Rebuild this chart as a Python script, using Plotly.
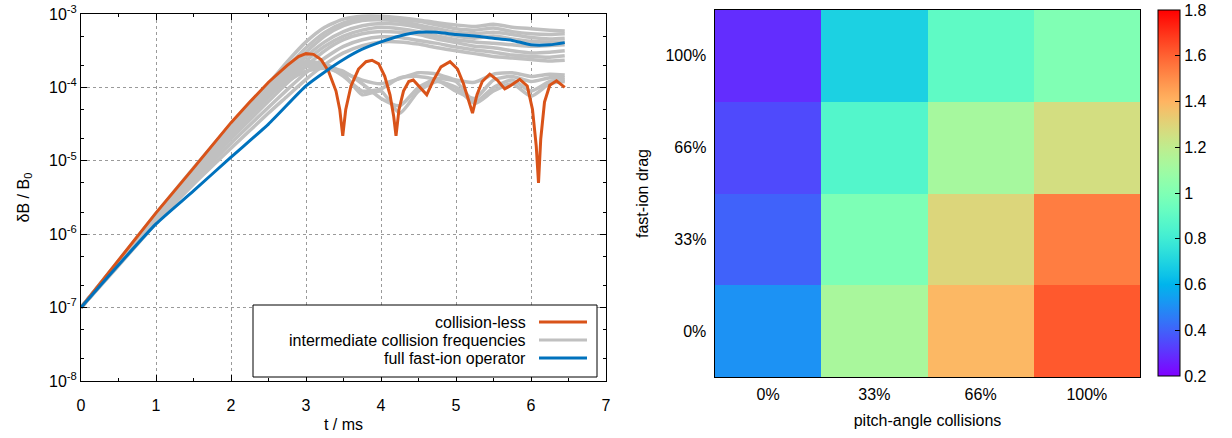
import math
import plotly.graph_objects as go

W, H = 1232, 438

# ---------------- data: left panel (log10 of dB/B0) ----------------
t_red = [0, 0.5, 1.0, 1.5, 2.0, 2.25, 2.5, 2.75, 2.9, 3.0, 3.1, 3.2, 3.3, 3.4, 3.45, 3.49, 3.53,
         3.6, 3.7, 3.8, 3.88, 3.97, 4.05, 4.12, 4.17, 4.2, 4.24, 4.3, 4.37, 4.43, 4.52, 4.61,
         4.7, 4.8, 4.92, 5.02, 5.1, 5.17, 5.22, 5.28, 5.35, 5.45, 5.55, 5.65, 5.72, 5.85,
         5.95, 6.02, 6.07, 6.1, 6.13, 6.18, 6.25, 6.34, 6.45]
log_red = [-7.0, -6.36, -5.71, -5.1, -4.48, -4.2, -3.93, -3.7, -3.58, -3.54, -3.55, -3.62, -3.78,
           -4.05, -4.3, -4.66, -4.3, -3.98, -3.75, -3.65, -3.63, -3.68, -3.85, -4.1, -4.4, -4.66,
           -4.3, -4.05, -3.92, -3.9, -4.0, -4.1, -3.9, -3.72, -3.65, -3.75, -3.95, -4.2, -4.35,
           -4.1, -3.92, -3.82, -3.9, -4.02, -3.98, -3.89, -3.98, -4.3, -4.8, -5.3, -4.7, -4.2,
           -3.97, -3.91, -4.0]

t_blue = [0, 0.5, 1.0, 1.5, 2.0, 2.5, 3.0, 3.25, 3.5, 3.75, 4.0, 4.25, 4.5, 4.75, 5.0, 5.25,
          5.5, 5.75, 6.0, 6.25, 6.45]
log_blue = [-7.0, -6.42, -5.86, -5.41, -4.95, -4.5, -3.98, -3.79, -3.62, -3.48, -3.38, -3.3,
            -3.25, -3.25, -3.28, -3.3, -3.33, -3.36, -3.42, -3.42, -3.39]

t_gray = [0, 0.5, 1.0, 1.5, 2.0, 2.5, 2.75, 3.0, 3.25, 3.5, 3.75, 4.0, 4.25, 4.5, 4.75, 5.0,
          5.25, 5.5, 5.75, 6.0, 6.25, 6.45]
gray_1 = [-7, -6.36, -5.72, -5.1, -4.5, -3.95, -3.65, -3.38, -3.18, -3.07, -3.03, -3.03, -3.05, -3.08, -3.12, -3.15, -3.17, -3.14, -3.18, -3.2, -3.22, -3.23]
gray_2 = [-7, -6.37, -5.74, -5.12, -4.53, -3.98, -3.72, -3.46, -3.25, -3.12, -3.06, -3.05, -3.07, -3.1, -3.15, -3.2, -3.22, -3.19, -3.24, -3.27, -3.28, -3.27]
gray_3 = [-7, -6.38, -5.76, -5.15, -4.57, -4.03, -3.77, -3.52, -3.3, -3.16, -3.09, -3.08, -3.1, -3.15, -3.2, -3.25, -3.27, -3.25, -3.28, -3.32, -3.34, -3.33]
gray_4 = [-7, -6.39, -5.77, -5.17, -4.6, -4.07, -3.82, -3.58, -3.38, -3.24, -3.16, -3.13, -3.14, -3.18, -3.25, -3.3, -3.33, -3.3, -3.34, -3.37, -3.38, -3.38]
gray_5 = [-7, -6.4, -5.79, -5.2, -4.65, -4.13, -3.88, -3.64, -3.44, -3.3, -3.22, -3.18, -3.2, -3.24, -3.3, -3.35, -3.38, -3.4, -3.42, -3.44, -3.43, -3.42]
gray_6 = [-7, -6.41, -5.81, -5.24, -4.7, -4.19, -3.94, -3.71, -3.5, -3.35, -3.27, -3.24, -3.25, -3.28, -3.34, -3.39, -3.44, -3.46, -3.5, -3.53, -3.52, -3.5]
gray_7 = [-7, -6.42, -5.83, -5.28, -4.76, -4.27, -4.03, -3.8, -3.6, -3.44, -3.35, -3.31, -3.32, -3.36, -3.4, -3.45, -3.49, -3.52, -3.56, -3.58, -3.59, -3.57]
gray_8 = [-7, -6.43, -5.85, -5.32, -4.83, -4.35, -4.12, -3.89, -3.69, -3.53, -3.43, -3.38, -3.38, -3.41, -3.46, -3.5, -3.54, -3.58, -3.6, -3.62, -3.64, -3.63]
gray_9 = [-7, -6.37, -5.74, -5.12, -4.52, -3.98, -3.78, -3.65, -3.68, -3.8, -3.9, -3.95, -3.88, -3.8, -3.82, -3.9, -3.93, -3.82, -3.8, -3.85, -3.82, -3.83]
gray_10 = [-7, -6.38, -5.76, -5.15, -4.56, -4.03, -3.82, -3.68, -3.7, -3.85, -4.05, -4.02, -3.87, -3.85, -3.9, -4.05, -4.15, -3.9, -3.85, -3.92, -3.87, -3.87]
gray_11 = [-7, -6.39, -5.78, -5.18, -4.6, -4.08, -3.87, -3.72, -3.72, -3.78, -3.95, -4.15, -4.25, -4.0, -3.88, -3.92, -4.2, -4.0, -3.9, -4.05, -3.92, -3.9]
gray_12 = [-7, -6.4, -5.8, -5.2, -4.63, -4.12, -3.92, -3.78, -3.74, -3.82, -4.1, -4.05, -4.35, -4.05, -3.92, -4.0, -4.22, -4.05, -3.95, -4.12, -3.95, -3.92]
gray_series = [gray_1, gray_2, gray_3, gray_4, gray_5, gray_6, gray_7, gray_8,
               gray_9, gray_10, gray_11, gray_12]

legend_labels = ["collision-less", "intermediate collision frequencies", "full fast-ion operator"]

# ---------------- data: right panel ----------------
pitch_labels = ["0%", "33%", "66%", "100%"]
drag_labels = ["0%", "33%", "66%", "100%"]
# rows: drag 0%, 33%, 66%, 100% ; columns: pitch-angle 0%, 33%, 66%, 100%
ratio_drag0 = [0.51, 1.13, 1.39, 1.62]
ratio_drag33 = [0.40, 0.99, 1.29, 1.54]
ratio_drag66 = [0.35, 0.86, 1.12, 1.26]
ratio_drag100 = [0.29, 0.69, 0.90, 1.00]
cbar_ticks = [0.2001, 0.4, 0.6, 0.8, 1.0, 1.2, 1.4, 1.6, 1.7999]
cbar_text = ["0.2", "0.4", "0.6", "0.8", "1", "1.2", "1.4", "1.6", "1.8"]
ytick_exponents = [-8, -7, -6, -5, -4, -3]

# ---------------- style ----------------
RED = "#D95319"
BLUE = "#0072BD"
GRAY = "#C0C0C0"
FONT = "Liberation Sans, Arial, sans-serif"


def gp_rainbow(n=41):
    scale = []
    for i in range(n):
        x = i / (n - 1)
        r = min(1.0, abs(2 * x - 0.5))
        g = max(0.0, math.sin(math.pi * x))
        b = max(0.0, math.cos(math.pi / 2 * x))
        scale.append([x, f"rgb({round(r*255)},{round(g*255)},{round(b*255)})"])
    return scale


def px_x(p):
    return p / W


def px_y(p):
    return 1 - p / H


fig = go.Figure()

for g in gray_series:
    fig.add_trace(go.Scatter(x=t_gray, y=[10 ** v for v in g], mode="lines",
                             line=dict(color=GRAY, width=3.5, shape="spline", smoothing=0.6),
                             showlegend=False, xaxis="x", yaxis="y", hoverinfo="skip"))
fig.add_trace(go.Scatter(x=t_red, y=[10 ** v for v in log_red], mode="lines",
                         line=dict(color=RED, width=3), showlegend=False,
                         xaxis="x", yaxis="y"))
fig.add_trace(go.Scatter(x=t_blue, y=[10 ** v for v in log_blue], mode="lines",
                         line=dict(color=BLUE, width=3, shape="spline", smoothing=0.6),
                         showlegend=False, xaxis="x", yaxis="y"))

z = [ratio_drag0, ratio_drag33, ratio_drag66, ratio_drag100]
fig.add_trace(go.Heatmap(
    x=pitch_labels, y=drag_labels, z=z, zmin=0.2, zmax=1.8,
    colorscale=gp_rainbow(), xaxis="x2", yaxis="y2",
    colorbar=dict(x=px_x(1158), xanchor="left", y=px_y(10), yanchor="top",
                  len=366 / H, lenmode="fraction", thickness=22, thicknessmode="pixels",
                  outlinecolor="black", outlinewidth=1, ticks="inside", ticklen=5,
                  tickcolor="black", tickvals=cbar_ticks, ticktext=cbar_text,
                  tickprefix="\u00a0\u00a0", ticklabeloverflow="allow",
                  tickfont=dict(size=16, color="black", family=FONT), xpad=0, ypad=0),
))

axis_common = dict(showline=True, linecolor="black", linewidth=1, mirror="allticks",
                   ticks="inside", tickcolor="black", automargin=False,
                   ticklabeloverflow="allow",
                   tickfont=dict(size=16, color="black", family=FONT))

# legend (drawn manually: labels right-aligned, samples on the right)
shapes = [dict(type="rect", xref="paper", yref="paper",
               x0=px_x(253), x1=px_x(597), y0=px_y(377), y1=px_y(305),
               line=dict(color="black", width=1), fillcolor="white", layer="above")]
annotations = []
for i, (lab, col) in enumerate(zip(legend_labels, [RED, GRAY, BLUE])):
    yy = px_y(322 + 18 * i)
    shapes.append(dict(type="line", xref="paper", yref="paper", x0=px_x(539), x1=px_x(587),
                       y0=yy, y1=yy, line=dict(color=col, width=3), layer="above"))
    annotations.append(dict(xref="paper", yref="paper", x=px_x(528), y=yy, text=lab,
                            showarrow=False, xanchor="right", yanchor="middle",
                            font=dict(size=16, color="black", family=FONT)))

fig.update_layout(
    width=W, height=H, margin=dict(l=0, r=0, t=0, b=0, autoexpand=False),
    paper_bgcolor="white", plot_bgcolor="white",
    font=dict(family=FONT, size=16, color="black"),
    xaxis=dict(domain=[px_x(81), px_x(606)], range=[0, 7], dtick=1, tick0=0, ticklen=6,
               showgrid=True, gridcolor="#9a9a9a", griddash="dot", gridwidth=1,
               zeroline=False, ticklabelstandoff=10,
               minor=dict(ticks="inside", ticklen=3, dtick=0.5, tickcolor="black", showgrid=False),
               title=dict(text="t / ms", standoff=5, font=dict(size=16)), anchor="y",
               **axis_common),
    yaxis=dict(domain=[px_y(381), px_y(14)], type="log", range=[-8, -3],
               tickvals=[10.0 ** e for e in ytick_exponents],
               ticktext=[f"10<sup>{e}</sup>" for e in ytick_exponents],
               ticklen=6,
               showgrid=True, gridcolor="#9a9a9a", griddash="dot", gridwidth=1,
               minor=dict(ticks="inside", ticklen=3, tickcolor="black", showgrid=False),
               title=dict(text="δB / B<sub>0</sub>", standoff=15, font=dict(size=16)),
               anchor="x", **axis_common),
    xaxis2=dict(domain=[px_x(715), px_x(1140)], anchor="y2", ticklen=0,
                ticklabelstandoff=3,
                title=dict(text="pitch-angle collisions", standoff=12, font=dict(size=16)),
                showgrid=False, zeroline=False, **axis_common),
    yaxis2=dict(domain=[px_y(377), px_y(10)], anchor="x2", ticklen=0,
                title=dict(text="fast-ion drag", standoff=12, font=dict(size=16)),
                showgrid=False, zeroline=False, ticksuffix=" ", **axis_common),
    shapes=shapes, annotations=annotations,
)

fig.write_html("out.html", config={"displayModeBar": False},
               post_script="document.body.style.margin='0px';"
                           "document.body.style.overflow='hidden';")
